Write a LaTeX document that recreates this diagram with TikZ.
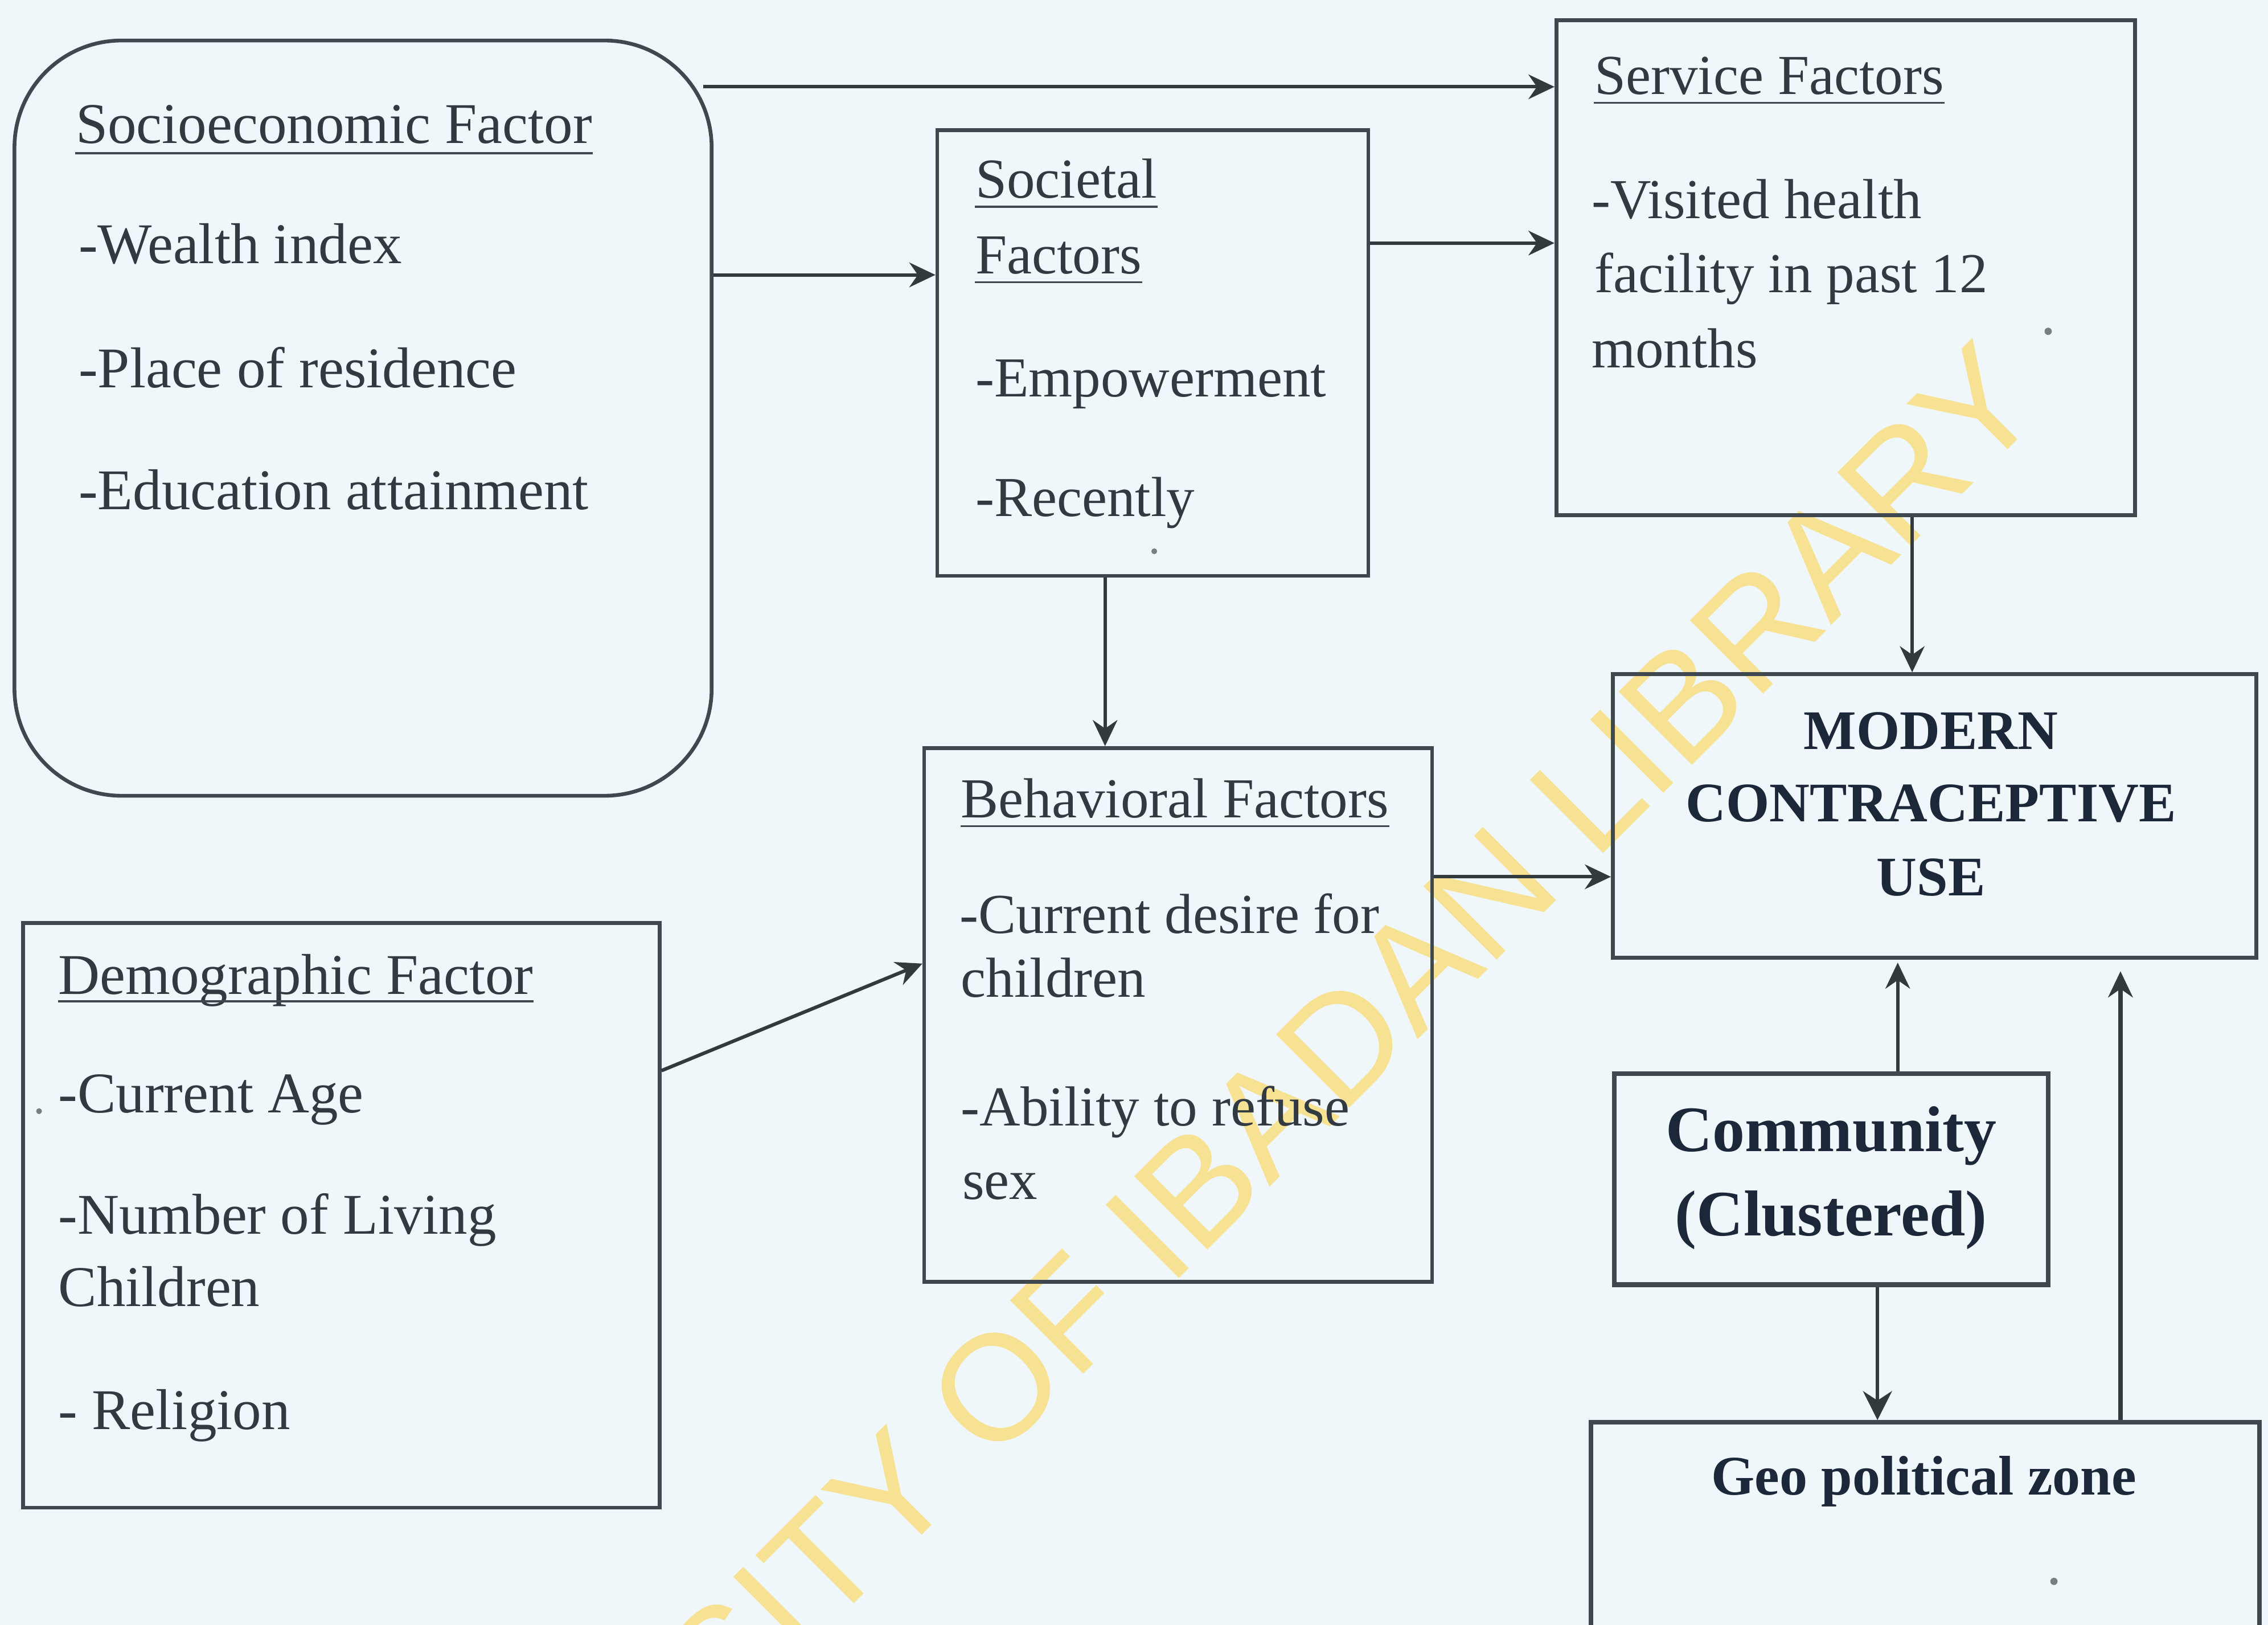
\documentclass[tikz,border=0pt]{standalone}
\usepackage{fontspec}
\setmainfont{Liberation Serif}
\newfontfamily\wmfont{Liberation Sans}
\usetikzlibrary{arrows.meta}
\definecolor{bg}{RGB}{240,247,250}
\definecolor{ink}{RGB}{48,58,64}
\definecolor{boldink}{RGB}{28,40,58}
\definecolor{linec}{RGB}{62,72,78}
\definecolor{wm}{RGB}{247,226,148}
\begin{document}
\begin{tikzpicture}[x=0.5pt,y=-0.5pt,
  box/.style={draw=linec, line width=1.3pt, inner sep=0pt},
  lbl/.style={anchor=base west, inner sep=0pt, text=ink, font=\fontsize{19.5}{23}\selectfont},
  lblw/.style={lbl, font=\fontsize{19.9}{23}\selectfont},
  bld/.style={anchor=base, inner sep=0pt, text=boldink, font=\fontsize{19.3}{23}\selectfont\bfseries},
  bigbld/.style={anchor=base, inner sep=0pt, text=boldink, font=\fontsize{22.4}{26}\selectfont\bfseries},
  arr/.style={draw=linec!80!black, line width=1.2pt, -{Stealth[length=9pt,width=8.5pt]}},
  bigarr/.style={arr, -{Stealth[length=10pt,width=10pt]}},
  uline/.style={draw=linec, line width=0.7pt},
  speck/.style={fill=linec!70, draw=none}
]
\useasboundingbox (0,0) rectangle (1568,1123);
\fill[bg] (0,0) rectangle (1568,1123);
\clip (0,0) rectangle (1568,1123);

% watermark
\node[rotate=45, anchor=mid east, inner sep=0pt, text=wm,
      font=\wmfont\fontsize{52}{52}\selectfont] (wmark) at (1413,279) {UNIVERSITY OF IBADAN LIBRARY};

% boxes
\node[box, rounded corners=37pt, minimum width=241pt, minimum height=261pt] (soc) at (251,289) {};
\node[box, minimum width=149pt, minimum height=154pt] (societal) at (797,244) {};
\node[box, minimum width=200pt, minimum height=171pt] (service) at (1276,185) {};
\node[box, minimum width=175.5pt, minimum height=184.5pt] (behav) at (814.5,701.5) {};
\node[box, minimum width=222.5pt, minimum height=98pt] (modern) at (1337.5,564) {};
\node[box, minimum width=220pt, minimum height=202pt] (demo) at (236,840) {};
\node[box, line width=1.7pt, minimum width=150pt, minimum height=73pt] (comm) at (1266,815) {};
\node[box, line width=1.5pt, minimum width=231pt, minimum height=78.5pt] (geo) at (1331,1061.5) {};

% helper coordinates
\coordinate (h190) at (0,190);
\coordinate (h168) at (0,168);
\coordinate (h606) at (0,606);
\coordinate (h740) at (0,740);
\coordinate (h666) at (0,666);
\coordinate (v764) at (764,0);
\coordinate (v1322) at (1322,0);
\coordinate (v1312) at (1312,0);
\coordinate (v1298) at (1298,0);
\coordinate (v1466) at (1466,0);
\coordinate (socTop) at (486,60);

% connectors
\draw[arr] (socTop) -- (service.west |- socTop);
\draw[arr] (soc.east |- h190) -- (societal.west |- h190);
\draw[arr] (societal.east |- h168) -- (service.west |- h168);
\draw[arr] (societal.south -| v764) -- (behav.north -| v764);
\draw[arr] (service.south -| v1322) -- (modern.north -| v1322);
\draw[arr] (behav.east |- h606) -- (modern.west |- h606);
\draw[arr] (demo.east |- h740) -- (behav.west |- h666);
\draw[arr] (comm.north -| v1312) -- ([yshift=-1pt]modern.south -| v1312);
\draw[bigarr] (comm.south -| v1298) -- (geo.north -| v1298);
\draw[arr, line width=1.5pt] (geo.north -| v1466) -- ([yshift=-4pt]modern.south -| v1466);

% socioeconomic
\node[lblw] (socT) at (52,99) {Socioeconomic Factor};
\draw[uline] ([yshift=-3.5pt]socT.base west) -- ([yshift=-3.5pt]socT.base east);
\node[lblw] (soc1) at (54,182) {-Wealth index};
\node[lblw] (soc2) at (54,268) {-Place of residence};
\node[lblw] (soc3) at (54,352) {-Education attainment};

% societal
\node[lbl] (sctT1) at (674,137) {Societal};
\draw[uline] ([yshift=-3pt]sctT1.base west) -- ([yshift=-3pt]sctT1.base east);
\node[lbl] (sctT2) at (674,189) {Factors};
\draw[uline] ([yshift=-3pt]sctT2.base west) -- ([yshift=-3pt]sctT2.base east);
\node[lbl] (sct1) at (674,274) {-Empowerment};
\node[lbl] (sct2) at (674,357) {-Recently};

% service
\node[lbl] (srvT) at (1102,65) {Service Factors};
\draw[uline] ([yshift=-3pt]srvT.base west) -- ([yshift=-3pt]srvT.base east);
\node[lbl] (srv1) at (1100,151) {-Visited health};
\node[lbl] (srv2) at (1102,202) {facility in past 12};
\node[lbl] (srv3) at (1100,254) {months};

% behavioral
\node[lbl] (behT) at (664,565) {Behavioral Factors};
\draw[uline] ([yshift=-3pt]behT.base west) -- ([yshift=-3pt]behT.base east);
\node[lbl] (beh1) at (663,645) {-Current desire for};
\node[lbl] (beh2) at (664,689) {children};
\node[lbl] (beh3) at (664,778) {-Ability to refuse};
\node[lbl] (beh4) at (665,829) {sex};

% demographic
\node[lblw] (demT) at (40,687) {Demographic Factor};
\draw[uline] ([yshift=-2.5pt]demT.base west) -- ([yshift=-2.5pt]demT.base east);
\node[lblw] (dem1) at (40,769) {-Current Age};
\node[lblw] (dem2) at (40,853) {-Number of Living};
\node[lblw] (dem3) at (40,903) {Children};
\node[lblw] (dem4) at (40,988) {- Religion};

% modern contraceptive use
\node[bld] (mod1) at (1335,518) {MODERN};
\node[bld] (mod2) at (1335,568) {CONTRACEPTIVE};
\node[bld] (mod3) at (1335,619) {USE};

% community
\node[bigbld] (com1) at (1266,796) {Community};
\node[bigbld] (com2) at (1266,854) {(Clustered)};

% geo political zone
\node[bld] (geoT) at (1330,1033) {Geo political zone};

% scan specks
\fill[speck] (1416,229) circle (2.5);
\fill[speck] (798,381) circle (2);
\fill[speck] (1420,1093) circle (2.5);
\fill[speck] (27,768) circle (2);
\end{tikzpicture}
\end{document}
